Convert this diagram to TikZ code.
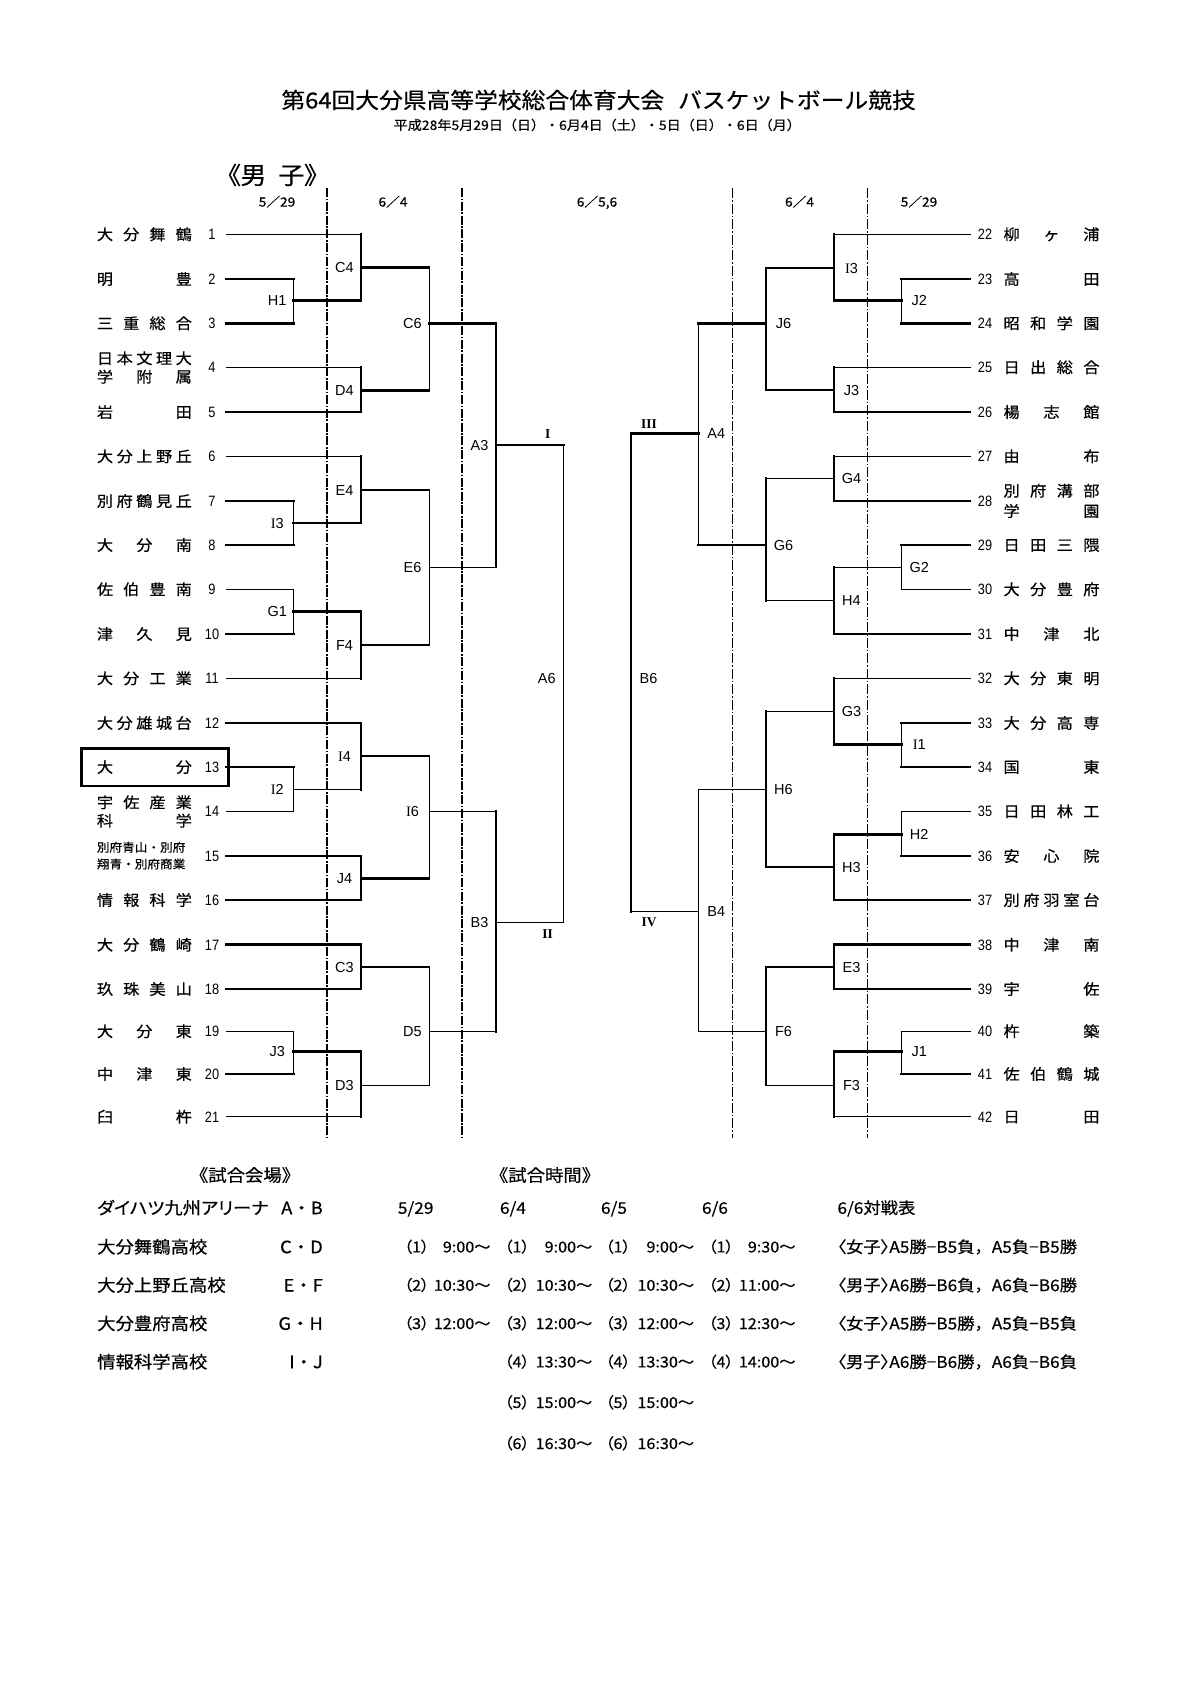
\documentclass[tikz,border=0pt]{standalone}
\usepackage{fontspec}
\setmainfont{Liberation Sans}
\newfontfamily\jp[FakeStretch=1.08,FakeBold=0.5]{Noto Sans CJK JP}
\newfontfamily\jpp[FakeStretch=1.08,FakeBold=0.5,RawFeature=+palt]{Noto Sans CJK JP}
\newfontfamily\ser{Liberation Serif}
\newfontfamily\nar[FakeStretch=0.85]{Liberation Sans}
\newcommand\RI{{\ser I}}
\newcommand\LN[3]{\node[nm] (#1) at (96.7,#2) {\makebox[95pt][s]{#3}};}
\newcommand\RN[3]{\node[nm] (#1) at (1003.3,#2) {\makebox[96pt][s]{#3}};}
\begin{document}
\begin{tikzpicture}[x=1pt,y=-1pt,
 thk/.style={line width=2.6pt,line cap=rect},
 thn/.style={line width=1pt,line cap=rect},
 dshL/.style={line width=1.6pt,dash pattern=on 9pt off 1.6pt on 1.6pt off 1.6pt},
 dshR/.style={line width=0.9pt,dash pattern=on 10pt off 2pt on 1.5pt off 2pt},
 nm/.style={inner sep=0pt,anchor=west,font=\jp\fontsize{15}{15}\selectfont,text height=13.2pt,text depth=1.8pt},
 nms/.style={inner sep=0pt,anchor=west,font=\jp\fontsize{11.7}{11.7}\selectfont,text height=10.3pt,text depth=1.4pt},
 num/.style={inner sep=0pt,font=\nar\fontsize{15}{15}\selectfont,text height=10.7pt,text depth=0pt},
 lbl/.style={inner sep=0pt,font=\fontsize{14.5}{14.5}\selectfont,text height=10.4pt,text depth=0pt},
 rom/.style={inner sep=0pt,font=\ser\bfseries\fontsize{13.5}{13.5}\selectfont,text height=9pt,text depth=0pt},
 hd/.style={inner sep=0pt,font=\jp\fontsize{12.7}{12.7}\selectfont,text height=11.2pt,text depth=1.5pt},
 ttl/.style={inner sep=0pt,font=\jp\fontsize{22}{22}\selectfont,text height=19.4pt,text depth=2.6pt},
 dan/.style={inner sep=0pt,font=\jpp\fontsize{24}{24}\selectfont,text height=21.1pt,text depth=2.9pt},
 sub/.style={inner sep=0pt,font=\jp\fontsize{13}{13}\selectfont,text height=11.4pt,text depth=1.6pt},
 b17/.style={inner sep=0pt,font=\jp\fontsize{17}{17}\selectfont,text height=15pt,text depth=2pt},
 b17p/.style={inner sep=0pt,font=\jpp\fontsize{17}{17}\selectfont,text height=15pt,text depth=2pt},
 b15/.style={inner sep=0pt,font=\jp\fontsize{15}{15}\selectfont,text height=13.2pt,text depth=1.8pt},
 b15p/.style={inner sep=0pt,font=\jpp\fontsize{15}{15}\selectfont,text height=13.2pt,text depth=1.8pt},
 b16p/.style={inner sep=0pt,font=\jpp\fontsize{16}{16}\selectfont,text height=14.1pt,text depth=1.9pt},
]
\fill[white] (0,0) rectangle (1195,1691);
\useasboundingbox (0,0) rectangle (1195,1691);

% ---------- titles ----------
\node[ttl] (title) at (598.6,100) {第64回大分県高等学校総合体育大会\hspace{14pt}バスケットボール競技};
\node[sub] (subt) at (597.3,125) {平成28年5月29日（日）・6月4日（土）・5日（日）・6日（月）};
\node[dan] (dan) at (272.5,175) {《男\hspace{12pt}子》};

% ---------- date headers ----------
\node[hd] (hd1) at (277,201.7) {5／29};
\node[hd] (hd2) at (393,201.7) {6／4};
\node[hd] (hd3) at (597,201.7) {6／5,6};
\node[hd] (hd4) at (799.5,201.7) {6／4};
\node[hd] (hd5) at (919,201.7) {5／29};

% ---------- dashed separators ----------
\coordinate (d1t) at (327,188);   \coordinate (d1b) at (327,1138.3);
\coordinate (d2t) at (461.7,188); \coordinate (d2b) at (461.7,1138.3);
\coordinate (d3t) at (732.3,188); \coordinate (d3b) at (732.3,1138.3);
\coordinate (d4t) at (867.3,188); \coordinate (d4b) at (867.3,1138.3);
\draw[dshL] (d1t) -- (d1b);
\draw[dshL] (d2t) -- (d2b);
\draw[dshR] (d3t) -- (d3b);
\draw[dshR] (d4t) -- (d4b);

% ---------- team rows ----------
\foreach \i/\y in {1/234.3,2/279,3/323.3,4/367.3,5/412,6/456.3,7/501,8/545,9/589.3,10/634,11/678.3,12/723,13/767,14/811.3,15/856,16/900,17/944.7,18/989,19/1031.3,20/1074,21/1116.7}{
  \coordinate (L\i) at (226,\y);
  \node[num] (k\i) at (212,\y) {\i};
  \pgfmathtruncatemacro\j{\i+21}
  \coordinate (R\j) at (970,\y);
  \node[num] (k\j) at (985,\y) {\j};
}

% left names
\LN{n1}{234.3}{大\hfill 分\hfill 舞\hfill 鶴}
\LN{n2}{279}{明\hfill 豊}
\LN{n3}{323.3}{三\hfill 重\hfill 総\hfill 合}
\LN{n4a}{358.3}{日\hfill 本\hfill 文\hfill 理\hfill 大}
\LN{n4b}{376.7}{学\hfill 附\hfill 属}
\LN{n5}{412}{岩\hfill 田}
\LN{n6}{456.3}{大\hfill 分\hfill 上\hfill 野\hfill 丘}
\LN{n7}{501}{別\hfill 府\hfill 鶴\hfill 見\hfill 丘}
\LN{n8}{545}{大\hfill 分\hfill 南}
\LN{n9}{589.3}{佐\hfill 伯\hfill 豊\hfill 南}
\LN{n10}{634}{津\hfill 久\hfill 見}
\LN{n11}{678.3}{大\hfill 分\hfill 工\hfill 業}
\LN{n12}{723}{大\hfill 分\hfill 雄\hfill 城\hfill 台}
\LN{n13}{767}{大\hfill 分}
\LN{n14a}{802.3}{宇\hfill 佐\hfill 産\hfill 業}
\LN{n14b}{820.7}{科\hfill 学}
\node[nms] (n15a) at (96.7,847.3) {別府青山・別府};
\node[nms] (n15b) at (96.7,864) {翔青・別府商業};
\LN{n16}{900}{情\hfill 報\hfill 科\hfill 学}
\LN{n17}{944.7}{大\hfill 分\hfill 鶴\hfill 崎}
\LN{n18}{989}{玖\hfill 珠\hfill 美\hfill 山}
\LN{n19}{1031.3}{大\hfill 分\hfill 東}
\LN{n20}{1074}{中\hfill 津\hfill 東}
\LN{n21}{1116.7}{臼\hfill 杵}
\node[draw=black,line width=2.7pt,inner sep=0pt,minimum width=146.6pt,minimum height=37.7pt] (box13) at (155,767.15) {};

% right names
\RN{n22}{234.3}{柳\hfill ヶ\hfill 浦}
\RN{n23}{279}{高\hfill 田}
\RN{n24}{323.3}{昭\hfill 和\hfill 学\hfill 園}
\RN{n25}{367.3}{日\hfill 出\hfill 総\hfill 合}
\RN{n26}{412}{楊\hfill 志\hfill 館}
\RN{n27}{456.3}{由\hfill 布}
\RN{n28a}{490.7}{別\hfill 府\hfill 溝\hfill 部}
\RN{n28b}{511}{学\hfill 園}
\RN{n29}{545}{日\hfill 田\hfill 三\hfill 隈}
\RN{n30}{589.3}{大\hfill 分\hfill 豊\hfill 府}
\RN{n31}{634}{中\hfill 津\hfill 北}
\RN{n32}{678.3}{大\hfill 分\hfill 東\hfill 明}
\RN{n33}{723}{大\hfill 分\hfill 高\hfill 専}
\RN{n34}{767}{国\hfill 東}
\RN{n35}{811.3}{日\hfill 田\hfill 林\hfill 工}
\RN{n36}{856}{安\hfill 心\hfill 院}
\RN{n37}{900}{別\hfill 府\hfill 羽\hfill 室\hfill 台}
\RN{n38}{944.7}{中\hfill 津\hfill 南}
\RN{n39}{989}{宇\hfill 佐}
\RN{n40}{1031.3}{杵\hfill 築}
\RN{n41}{1074}{佐\hfill 伯\hfill 鶴\hfill 城}
\RN{n42}{1116.7}{日\hfill 田}

% ---------- match points ----------
\coordinate (H1) at (293.7,300.7);  \coordinate (I3L) at (293.7,523);
\coordinate (G1) at (293.7,611.7);  \coordinate (I2) at (293.7,789.3);
\coordinate (J3L) at (293.7,1051.7);
\coordinate (C4) at (361,267.7); \coordinate (D4) at (361,390.3);
\coordinate (E4) at (361,490);   \coordinate (F4) at (361,645);
\coordinate (I4) at (361,756);   \coordinate (J4) at (361,878.3);
\coordinate (C3) at (361,967);   \coordinate (D3) at (361,1085);
\coordinate (C6) at (429,323.3); \coordinate (E6) at (429,567);
\coordinate (I6) at (429,811.6); \coordinate (D5) at (429,1031.3);
\coordinate (A3) at (496,444.8); \coordinate (B3) at (496,922.3);
\coordinate (A6) at (563.3,678);

\coordinate (J2) at (901.7,300.7); \coordinate (G2) at (901.7,567);
\coordinate (I1) at (901.7,744.3); \coordinate (H2) at (901.7,834.3);
\coordinate (J1) at (901.7,1051.7);
\coordinate (I3R) at (834,268);  \coordinate (J3R) at (834,390);
\coordinate (G4) at (834,478.3); \coordinate (H4) at (834,600.7);
\coordinate (G3) at (834,711.3); \coordinate (H3) at (834,867);
\coordinate (E3) at (834,967);   \coordinate (F3) at (834,1085);
\coordinate (J6) at (766,323.3); \coordinate (G6) at (766,545);
\coordinate (H6) at (766,789.3); \coordinate (F6) at (766,1031.3);
\coordinate (A4) at (698.7,433.6); \coordinate (B4) at (698.7,911.6);
\coordinate (B6) at (631,678);

% ---------- left bracket ----------
\draw[thn] (L1) -- (L1 -| C4);
\draw[thk] (L2) -- (L2 -| H1);
\draw[thk] (L3) -- (L3 -| H1);
\draw[thn] (L2 -| H1) -- (L3 -| H1);
\draw[thk] (H1) -- (H1 -| C4);
\draw[thk] (L1 -| C4) -- (H1 -| C4);
\draw[thk] (C4) -- (C4 -| C6);
\draw[thn] (L4) -- (L4 -| D4);
\draw[thk] (L5) -- (L5 -| D4);
\draw[thk] (L4 -| D4) -- (L5 -| D4);
\draw[thk] (D4) -- (D4 -| C6);
\draw[thn] (C4 -| C6) -- (D4 -| C6);
\draw[thk] (C6) -- (C6 -| A3);
\draw[thn] (L6) -- (L6 -| E4);
\draw[thk] (L7) -- (L7 -| I3L);
\draw[thk] (L8) -- (L8 -| I3L);
\draw[thn] (L7 -| I3L) -- (L8 -| I3L);
\draw[thk] (I3L) -- (I3L -| E4);
\draw[thk] (L6 -| E4) -- (I3L -| E4);
\draw[thk] (E4) -- (E4 -| E6);
\draw[thn] (L9) -- (L9 -| G1);
\draw[thk] (L10) -- (L10 -| G1);
\draw[thn] (L9 -| G1) -- (L10 -| G1);
\draw[thk] (G1) -- (G1 -| F4);
\draw[thn] (L11) -- (L11 -| F4);
\draw[thk] (G1 -| F4) -- (L11 -| F4);
\draw[thk] (F4) -- (F4 -| E6);
\draw[thn] (E4 -| E6) -- (F4 -| E6);
\draw[thn] (E6) -- (E6 -| A3);
\draw[thk] (C6 -| A3) -- (E6 -| A3);
\draw[thk] (A3) -- (A3 -| A6);
\draw[thk] (L12) -- (L12 -| I4);
\draw[thk] (L13) -- (L13 -| I2);
\draw[thn] (L14) -- (L14 -| I2);
\draw[thn] (L13 -| I2) -- (L14 -| I2);
\draw[thn] (I2) -- (I2 -| I4);
\draw[thk] (L12 -| I4) -- (I2 -| I4);
\draw[thk] (I4) -- (I4 -| I6);
\draw[thk] (L15) -- (L15 -| J4);
\draw[thk] (L16) -- (L16 -| J4);
\draw[thk] (L15 -| J4) -- (L16 -| J4);
\draw[thk] (J4) -- (J4 -| I6);
\draw[thn] (I4 -| I6) -- (J4 -| I6);
\draw[thn] (I6) -- (I6 -| B3);
\draw[thk] (L17) -- (L17 -| C3);
\draw[thk] (L18) -- (L18 -| C3);
\draw[thk] (L17 -| C3) -- (L18 -| C3);
\draw[thk] (C3) -- (C3 -| D5);
\draw[thn] (L19) -- (L19 -| J3L);
\draw[thk] (L20) -- (L20 -| J3L);
\draw[thn] (L19 -| J3L) -- (L20 -| J3L);
\draw[thk] (J3L) -- (J3L -| D3);
\draw[thn] (L21) -- (L21 -| D3);
\draw[thk] (J3L -| D3) -- (L21 -| D3);
\draw[thn] (D3) -- (D3 -| D5);
\draw[thn] (C3 -| D5) -- (D3 -| D5);
\draw[thn] (D5) -- (D5 -| B3);
\draw[thk] (I6 -| B3) -- (D5 -| B3);
\draw[thn] (B3) -- (B3 -| A6);
\draw[thn] (A3 -| A6) -- (B3 -| A6);

% ---------- right bracket ----------
\draw[thn] (R22) -- (R22 -| I3R);
\draw[thk] (R23) -- (R23 -| J2);
\draw[thk] (R24) -- (R24 -| J2);
\draw[thn] (R23 -| J2) -- (R24 -| J2);
\draw[thk] (J2) -- (J2 -| I3R);
\draw[thk] (R22 -| I3R) -- (J2 -| I3R);
\draw[thk] (I3R) -- (I3R -| J6);
\draw[thn] (R25) -- (R25 -| J3R);
\draw[thk] (R26) -- (R26 -| J3R);
\draw[thk] (R25 -| J3R) -- (R26 -| J3R);
\draw[thk] (J3R) -- (J3R -| J6);
\draw[thk] (I3R -| J6) -- (J3R -| J6);
\draw[thk] (J6) -- (J6 -| A4);
\draw[thn] (R27) -- (R27 -| G4);
\draw[thk] (R28) -- (R28 -| G4);
\draw[thk] (R27 -| G4) -- (R28 -| G4);
\draw[thn] (G4) -- (G4 -| G6);
\draw[thk] (R29) -- (R29 -| G2);
\draw[thn] (R30) -- (R30 -| G2);
\draw[thn] (R29 -| G2) -- (R30 -| G2);
\draw[thn] (G2) -- (G2 -| H4);
\draw[thk] (R31) -- (R31 -| H4);
\draw[thk] (G2 -| H4) -- (R31 -| H4);
\draw[thn] (H4) -- (H4 -| G6);
\draw[thk] (G4 -| G6) -- (H4 -| G6);
\draw[thk] (G6) -- (G6 -| A4);
\draw[thn] (J6 -| A4) -- (G6 -| A4);
\draw[thk] (A4) -- (A4 -| B6);
\draw[thn] (R32) -- (R32 -| G3);
\draw[thk] (R33) -- (R33 -| I1);
\draw[thk] (R34) -- (R34 -| I1);
\draw[thn] (R33 -| I1) -- (R34 -| I1);
\draw[thk] (I1) -- (I1 -| G3);
\draw[thk] (R32 -| G3) -- (I1 -| G3);
\draw[thn] (G3) -- (G3 -| H6);
\draw[thn] (R35) -- (R35 -| H2);
\draw[thk] (R36) -- (R36 -| H2);
\draw[thn] (R35 -| H2) -- (R36 -| H2);
\draw[thk] (H2) -- (H2 -| H3);
\draw[thk] (R37) -- (R37 -| H3);
\draw[thk] (H2 -| H3) -- (R37 -| H3);
\draw[thk] (H3) -- (H3 -| H6);
\draw[thk] (G3 -| H6) -- (H3 -| H6);
\draw[thn] (H6) -- (H6 -| B4);
\draw[thk] (R38) -- (R38 -| E3);
\draw[thk] (R39) -- (R39 -| E3);
\draw[thk] (R38 -| E3) -- (R39 -| E3);
\draw[thk] (E3) -- (E3 -| F6);
\draw[thn] (R40) -- (R40 -| J1);
\draw[thk] (R41) -- (R41 -| J1);
\draw[thn] (R40 -| J1) -- (R41 -| J1);
\draw[thk] (J1) -- (J1 -| F3);
\draw[thn] (R42) -- (R42 -| F3);
\draw[thk] (J1 -| F3) -- (R42 -| F3);
\draw[thn] (F3) -- (F3 -| F6);
\draw[thk] (E3 -| F6) -- (F3 -| F6);
\draw[thn] (F6) -- (F6 -| B4);
\draw[thn] (H6 -| B4) -- (F6 -| B4);
\draw[thn] (B4) -- (B4 -| B6);
\draw[thk] (A4 -| B6) -- (B4 -| B6);

% ---------- match labels ----------
\foreach \p/\t in {H1/H1,I3L/\RI3,G1/G1,I2/\RI2,J3L/J3,C4/C4,D4/D4,E4/E4,F4/F4,I4/\RI4,J4/J4,C3/C3,D3/D3,C6/C6,E6/E6,I6/\RI6,D5/D5,A3/A3,B3/B3,A6/A6}{
  \node[lbl,xshift=-16.5pt] (t\p) at (\p) {\t};
}
\foreach \p/\t in {J2/J2,G2/G2,I1/\RI1,H2/H2,J1/J1,I3R/\RI3,J3R/J3,G4/G4,H4/H4,G3/G3,H3/H3,E3/E3,F3/F3,J6/J6,G6/G6,H6/H6,F6/F6,A4/A4,B4/B4,B6/B6}{
  \node[lbl,xshift=17.5pt] (t\p) at (\p) {\t};
}
\node[rom] (rI) at (547.7,433.8) {I};
\node[rom] (rII) at (547.7,934) {II};
\node[rom] (rIII) at (649,424.4) {III};
\node[rom] (rIV) at (649,921.8) {IV};

% ---------- venues ----------
\node[b17] (venH) at (245,1175) {《試合会場》};
\node[b17] (timH) at (545,1175) {《試合時間》};
\node[b17p,anchor=west] (v1) at (97,1207.7) {ダイハツ九州アリーナ};
\node[b17p,anchor=west] (v2) at (97,1246.7) {大分舞鶴高校};
\node[b17p,anchor=west] (v3) at (97,1285) {大分上野丘高校};
\node[b17p,anchor=west] (v4) at (97,1323.3) {大分豊府高校};
\node[b17p,anchor=west] (v5) at (97,1361.7) {情報科学高校};
\node[b17,anchor=east] (c1) at (323,1207.7) {A・B};
\node[b17,anchor=east] (c2) at (323,1246.7) {C・D};
\node[b17,anchor=east] (c3) at (323,1285) {E・F};
\node[b17,anchor=east] (c4) at (323,1323.3) {G・H};
\node[b17,anchor=east] (c5) at (323,1361.7) {I・J};

% ---------- times ----------
\node[b16p] (h529) at (415.7,1207.7) {5/29};
\node[b16p] (h64) at (513,1207.7) {6/4};
\node[b16p] (h65) at (614,1207.7) {6/5};
\node[b16p] (h66) at (715,1207.7) {6/6};
\node[b16p,anchor=west] (hvs) at (837.3,1207.7) {6/6対戦表};
\foreach \i/\y/\tm in {1/1246.7/9:00,2/1285/10:30,3/1323.3/12:00}{
  \node[b15p] (pa\i) at (416.6,\y) {（\i{}）};
  \node[b15,anchor=east] (ta\i) at (490.7,\y) {\tm{}～};
}
\foreach \i/\y/\tm in {1/1246.7/9:00,2/1285/10:30,3/1323.3/12:00,4/1361.7/13:30,5/1402.3/15:00,6/1443.3/16:30}{
  \node[b15p] (pb\i) at (517,\y) {（\i{}）};
  \node[b15,anchor=east] (tb\i) at (592.5,\y) {\tm{}～};
  \node[b15p] (pc\i) at (618,\y) {（\i{}）};
  \node[b15,anchor=east] (tc\i) at (694.3,\y) {\tm{}～};
}
\foreach \i/\y/\tm in {1/1246.7/9:30,2/1285/11:00,3/1323.3/12:30,4/1361.7/14:00}{
  \node[b15p] (pd\i) at (721,\y) {（\i{}）};
  \node[b15,anchor=east] (td\i) at (795.7,\y) {\tm{}～};
}
\node[b16p,anchor=west] (m1) at (837.3,1246.7) {〈女子〉A5勝−B5負{\jp ，}A5負−B5勝};
\node[b16p,anchor=west] (m2) at (837.3,1285) {〈男子〉A6勝−B6負{\jp ，}A6負−B6勝};
\node[b16p,anchor=west] (m3) at (837.3,1323.3) {〈女子〉A5勝−B5勝{\jp ，}A5負−B5負};
\node[b16p,anchor=west] (m4) at (837.3,1361.7) {〈男子〉A6勝−B6勝{\jp ，}A6負−B6負};
\end{tikzpicture}
\end{document}
